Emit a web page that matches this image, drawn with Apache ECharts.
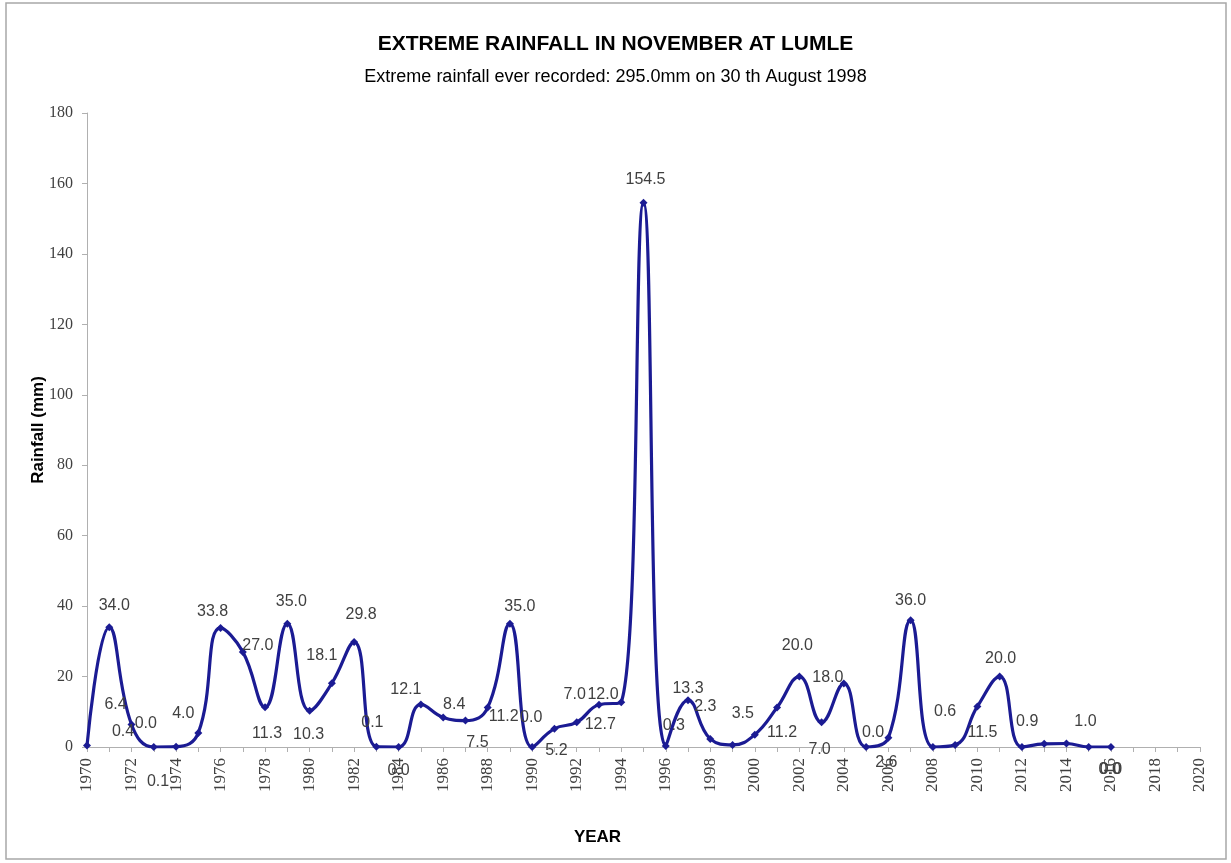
<!DOCTYPE html>
<html>
<head>
<meta charset="utf-8">
<title>Extreme rainfall in November at Lumle</title>
<script src="https://cdn.jsdelivr.net/npm/echarts@6/dist/echarts.min.js"></script>
<style>
  html, body { margin: 0; padding: 0; background: #fff; }
  #main { width: 1231px; height: 863px; }
</style>
</head>
<body>
<div id="main"></div>
<script>
// years on the x axis (1970 - 2020)
var years = [];
for (var y = 1970; y <= 2020; y++) years.push(String(y));

// extreme November rainfall (mm), null = no record
var rainfall = [
    0.4, 34.0, 6.4, 0.0, 0.1, 4.0, 33.8, 27.0, 11.3, 35.0,
    10.3, 18.1, 29.8, 0.1, 0.0, 12.1, 8.4, 7.5, 11.2, 35.0,
    0.0, 5.2, 7.0, 12.0, 12.7, 154.5, 0.3, 13.3, 2.3, 0.6,
    3.5, 11.2, 20.0, 7.0, 18.0, 0.0, 2.6, 36.0, 0.0, 0.6,
    11.5, 20.0, 0.0, 0.9, 1.0, 0.0, 0.0, null, null, null, null
];

var yTicks = [0, 20, 40, 60, 80, 100, 120, 140, 160, 180];

// where each data label sits relative to its point (as in the original sheet)
var labelOffset = {
    '1970': [36, -14], '1971': [5, -22], '1972': [-16, -20], '1973': [-8, -23],
    '1974': [-18, 35], '1975': [-15, -19], '1976': [-8, -16], '1977': [15, -6],
    '1978': [2, 26], '1979': [4, -22], '1980': [-1, 24], '1981': [-10, -28],
    '1982': [7, -27], '1983': [-4, -24], '1984': [0, 24], '1985': [-15, -15],
    '1986': [11, -13], '1987': [12, 22], '1988': [16, 9], '1989': [10, -17],
    '1990': [-1, -29], '1991': [2, 22], '1992': [-2, -28], '1993': [4, -10],
    '1994': [-21, 22], '1995': [2, -23], '1996': [8, -20], '1997': [0, -12],
    '1998': [-5, -32], '2000': [-12, -21], '2001': [5, 25], '2002': [-2, -31],
    '2003': [-2, 27], '2004': [-16, -6], '2005': [7, -14], '2006': [-2, 25],
    '2007': [0, -20], '2009': [-10, -33], '2010': [5, 26], '2011': [1, -18],
    '2013': [-17, -22], '2014': [19, -22], '2015': [21, 23], '2016': [0, 23]
};

var seriesData = [];
for (var i = 0; i < years.length; i++) {
    var off = labelOffset[years[i]];
    seriesData.push({
        value: rainfall[i],
        label: off ? { show: true, offset: off } : { show: false }
    });
}

var lineColor = '#1b1b93';
var myChart = echarts.init(document.getElementById('main'));
var option = {
    backgroundColor: '#fff',
    animation: false,
    graphic: [{
        type: 'rect',
        shape: { x: 6, y: 3, width: 1220, height: 856 },
        style: { fill: 'none', stroke: '#a8a8a8', lineWidth: 1.5 },
        silent: true
    }],
    title: {
        text: 'EXTREME RAINFALL IN NOVEMBER AT LUMLE',
        subtext: 'Extreme rainfall ever recorded: 295.0mm on 30 th August 1998',
        left: 'center',
        top: 29,
        itemGap: 13,
        textStyle: {
            fontFamily: 'Liberation Sans, sans-serif',
            fontSize: 21, fontWeight: 'bold', color: '#000'
        },
        subtextStyle: {
            fontFamily: 'Liberation Sans, sans-serif',
            fontSize: 18, color: '#000'
        }
    },
    grid: { left: 87, right: 31, top: 113, bottom: 116, containLabel: false },
    xAxis: {
        type: 'category',
        data: years,
        boundaryGap: false,
        name: 'YEAR',
        nameLocation: 'middle',
        nameGap: 82,
        nameMoveOverlap: false,
        nameTextStyle: {
            fontFamily: 'Liberation Sans, sans-serif',
            fontSize: 17, fontWeight: 'bold', color: '#000',
            padding: [0, 92, 0, 0]
        },
        axisLine: { lineStyle: { color: '#b0b0b0', width: 1 } },
        axisTick: { interval: 0, length: 5, lineStyle: { color: '#b0b0b0' } },
        axisLabel: {
            interval: 1,
            rotate: 90,
            margin: 11,
            fontFamily: 'Liberation Serif, serif',
            fontSize: 17,
            color: '#404040'
        },
        splitLine: { show: false }
    },
    yAxis: {
        type: 'value',
        min: 0,
        max: 180,
        interval: 20,
        name: 'Rainfall (mm)',
        nameLocation: 'middle',
        nameGap: 40,
        nameMoveOverlap: false,
        nameTextStyle: {
            fontFamily: 'Liberation Sans, sans-serif',
            fontSize: 17, fontWeight: 'bold', color: '#000'
        },
        axisLine: { show: true, lineStyle: { color: '#b0b0b0', width: 1 } },
        axisTick: { show: true, length: 5, lineStyle: { color: '#b0b0b0' } },
        axisLabel: {
            margin: 14,
            fontFamily: 'Liberation Serif, serif',
            fontSize: 16,
            color: '#404040',
            formatter: function (v) { return yTicks.indexOf(v) >= 0 ? String(v) : ''; }
        },
        splitLine: { show: false }
    },
    series: [{
        name: 'Rainfall',
        type: 'line',
        data: seriesData,
        smooth: 0.45,
        connectNulls: false,
        symbol: 'diamond',
        symbolSize: 8,
        lineStyle: { color: lineColor, width: 3.2 },
        itemStyle: { color: lineColor },
        label: {
            show: true,
            position: 'inside',
            fontFamily: 'Liberation Sans, sans-serif',
            fontSize: 16,
            color: '#404040',
            formatter: function (p) { return p.value == null ? '' : p.value.toFixed(1); }
        }
    }]
};
myChart.setOption(option);
</script>
</body>
</html>
